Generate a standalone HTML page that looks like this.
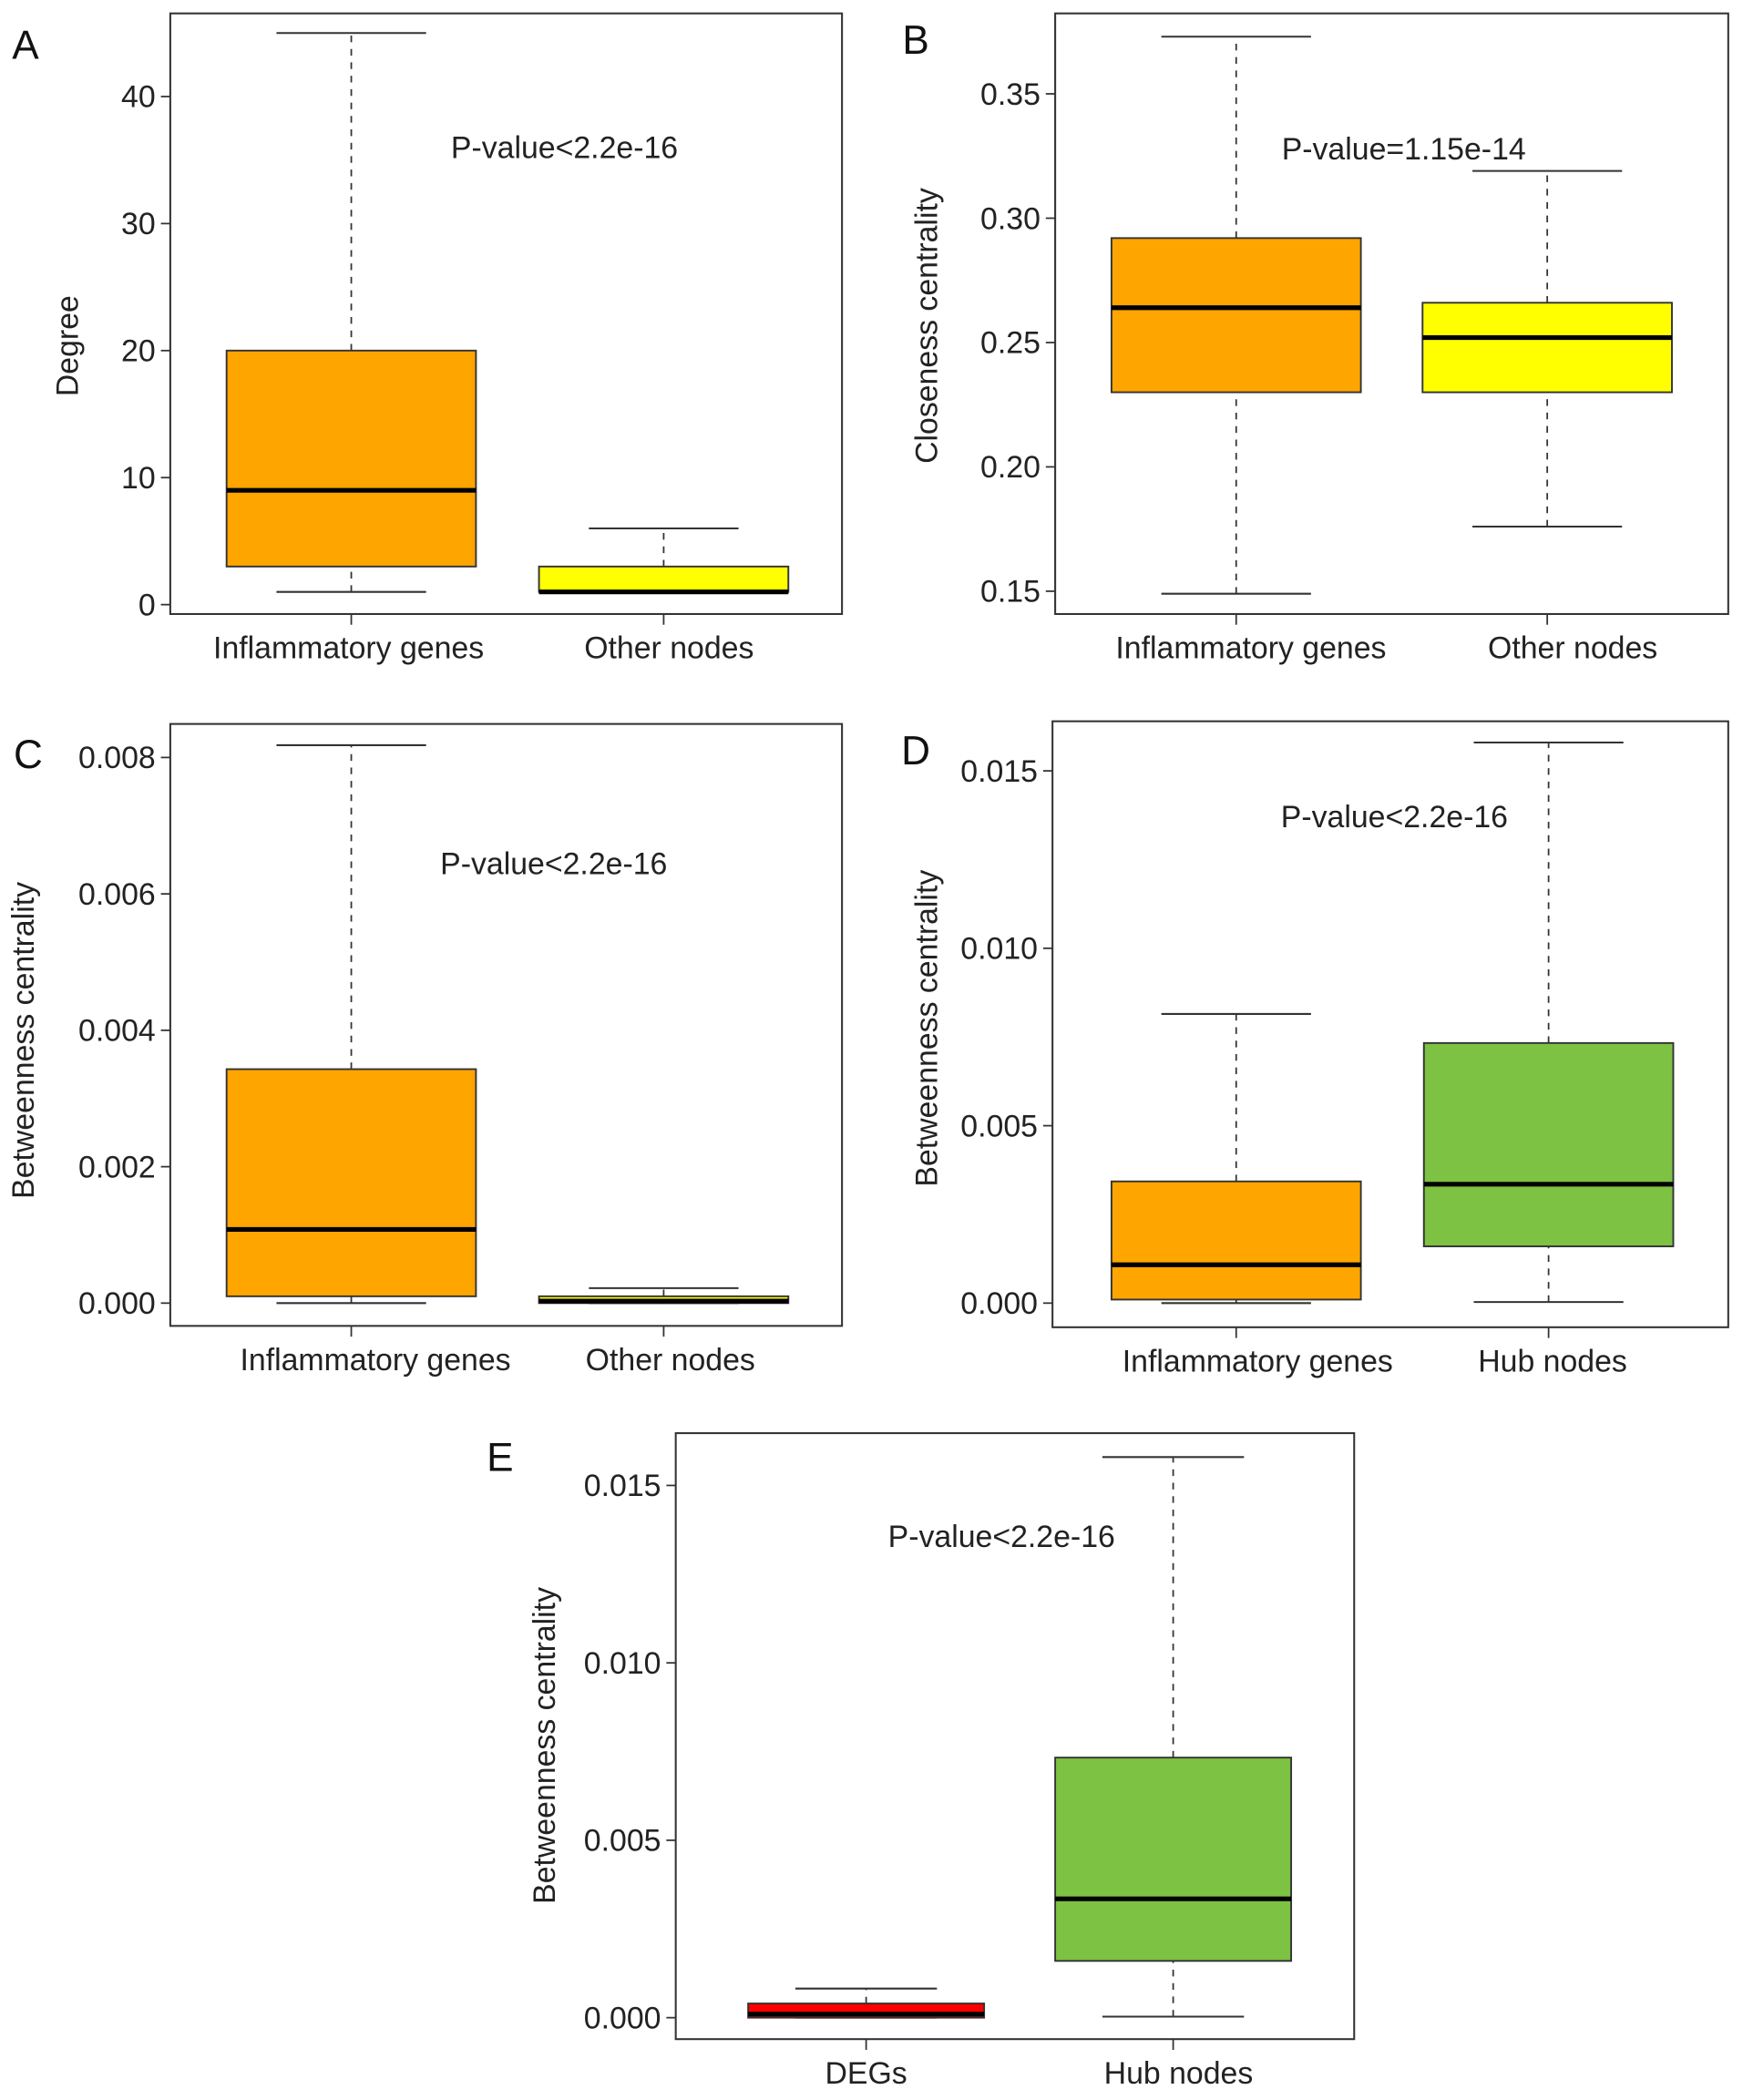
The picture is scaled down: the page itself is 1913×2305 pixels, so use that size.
<!DOCTYPE html>
<html><head><meta charset="utf-8"><style>
html,body{margin:0;padding:0;background:#fff;}
svg{display:block;font-family:"Liberation Sans",Arial,sans-serif;}
</style></head><body>
<svg id="fig" width="1913" height="2305" viewBox="0 0 1300 1566.4" xmlns="http://www.w3.org/2000/svg"></svg>
<script>
// Panel A data
const aCats = ["Inflammatory genes","Other nodes"];
const aStats = [[1,3,9,20,45],[1,1,1,3,6]];
const aTicks = [0,10,20,30,40];
const aTickLabels = ["0","10","20","30","40"];
// Panel B data
const bCats = ["Inflammatory genes","Other nodes"];
const bStats = [[0.149,0.230,0.264,0.292,0.373],[0.176,0.230,0.252,0.266,0.319]];
const bTicks = [0.15,0.20,0.25,0.30,0.35];
const bTickLabels = ["0.15","0.20","0.25","0.30","0.35"];
// Panel C data
const cCats = ["Inflammatory genes","Other nodes"];
const cStats = [[0,0.0001,0.00108,0.00343,0.00818],[0,0,0.00003,0.0001,0.00022]];
const cTicks = [0,0.002,0.004,0.006,0.008];
const cTickLabels = ["0.000","0.002","0.004","0.006","0.008"];
// Panel D data
const dCats = ["Inflammatory genes","Hub nodes"];
const dStats = [[0,0.0001,0.00108,0.00343,0.00815],[0.00003,0.0016,0.00335,0.00733,0.0158]];
const dTicks = [0,0.005,0.010,0.015];
const dTickLabels = ["0.000","0.005","0.010","0.015"];
// Panel E data
const eCats = ["DEGs","Hub nodes"];
const eStats = [[0,0,0.0001,0.0004,0.00082],[0.00003,0.0016,0.00335,0.00733,0.0158]];
const eTicks = [0,0.005,0.010,0.015];
const eTickLabels = ["0.000","0.005","0.010","0.015"];

const NS="http://www.w3.org/2000/svg";
const svg=document.getElementById('fig');
function mk(tag,attrs,parent){const e=document.createElementNS(NS,tag);for(const k in attrs)e.setAttribute(k,attrs[k]);(parent||svg).appendChild(e);return e;}

function panel(o){
  const g=mk('g',{});
  
  
  const ys=v=>o.y0+(v-o.v0)*(o.y1-o.y0)/(o.v1-o.v0);
  const fr=mk('rect',{x:o.fx0,y:o.fy0,width:o.fx1-o.fx0,height:o.fy1-o.fy0,fill:'none',stroke:'#333','stroke-width':1.4},g);
  
  
  const ax=mk('g',{},g);
  
  
  o.ticks.forEach((t,i)=>{
    const y=ys(t);
    mk('line',{x1:o.fx0-7,x2:o.fx0,y1:y,y2:y,stroke:'#333','stroke-width':1.2},ax);
    const tx=mk('text',{x:o.fx0-11,y:y+8,'text-anchor':'end','font-size':23,fill:'#222'},ax);
    tx.textContent=o.labels[i];
    
    
  });
  const yl=mk('text',{x:0,y:0,transform:`translate(${o.ylx},${o.yly}) rotate(-90)`,'text-anchor':'middle','font-size':23,fill:'#222'},g);
  yl.textContent=o.ytitle;
  
  
  o.stats.forEach((s,i)=>{
    const cx=o.cx[i],hw=o.hw,ww=o.hw*0.6;
    const bg=mk('g',{},g);
    
    
    mk('line',{x1:cx,x2:cx,y1:ys(s[0]),y2:ys(s[1]),stroke:'#333','stroke-width':1.2,'stroke-dasharray':'5,5'},bg);
    mk('line',{x1:cx,x2:cx,y1:ys(s[3]),y2:ys(s[4]),stroke:'#333','stroke-width':1.2,'stroke-dasharray':'5,5'},bg);
    mk('line',{x1:cx-ww,x2:cx+ww,y1:ys(s[0]),y2:ys(s[0]),stroke:'#333','stroke-width':1.4},bg);
    mk('line',{x1:cx-ww,x2:cx+ww,y1:ys(s[4]),y2:ys(s[4]),stroke:'#333','stroke-width':1.4},bg);
    mk('rect',{x:cx-hw,y:ys(s[3]),width:2*hw,height:Math.max(ys(s[1])-ys(s[3]),1),fill:o.colors[i],stroke:'#333','stroke-width':1.3},bg);
    mk('line',{x1:cx-hw,x2:cx+hw,y1:ys(s[2]),y2:ys(s[2]),stroke:'#000','stroke-width':3.5},bg);
    mk('line',{x1:cx,x2:cx,y1:o.fy1,y2:o.fy1+8,stroke:'#333','stroke-width':1.2},g);
    const xl=mk('text',{x:o.lx[i],y:o.fy1+33,'text-anchor':'middle','font-size':23,fill:'#222'},g);
    xl.textContent=o.cats[i];
    
    
  });
  const p=mk('text',{x:o.px,y:o.py,'text-anchor':'middle','font-size':23,fill:'#222'},g);
  p.textContent=o.ptext;
  
  
  const L=mk('text',{x:o.Lx,y:o.Ly,'text-anchor':'middle','font-size':30,fill:'#111'},g);
  L.textContent=o.letter;
  
  
}

panel({letter:'A',cats:aCats,stats:aStats,ticks:aTicks,labels:aTickLabels,v0:0,v1:40,y0:451,y1:72,
  fx0:127,fx1:628,fy0:10,fy1:458,cx:[262,495],lx:[260,499],hw:93,colors:['#FFA500','#FFFF00'],
  ytitle:'Degree',ylx:58,yly:258,ptext:'P-value<2.2e-16',px:421,py:118,Lx:19,Ly:44});
panel({letter:'B',cats:bCats,stats:bStats,ticks:bTicks,labels:bTickLabels,v0:0.15,v1:0.35,y0:441,y1:70,
  fx0:787,fx1:1289,fy0:10,fy1:458,cx:[922,1154],lx:[933,1173],hw:93,colors:['#FFA500','#FFFF00'],
  ytitle:'Closeness centrality',ylx:699,yly:243,ptext:'P-value=1.15e-14',px:1047,py:119,Lx:683,Ly:40});
panel({letter:'C',cats:cCats,stats:cStats,ticks:cTicks,labels:cTickLabels,v0:0,v1:0.008,y0:972,y1:565,
  fx0:127,fx1:628,fy0:540,fy1:989,cx:[262,495],lx:[280,500],hw:93,colors:['#FFA500','#FFFF00'],
  ytitle:'Betweenness centrality',ylx:25,yly:776,ptext:'P-value<2.2e-16',px:413,py:652,Lx:21,Ly:573});
panel({letter:'D',cats:dCats,stats:dStats,ticks:dTicks,labels:dTickLabels,v0:0,v1:0.015,y0:972,y1:575,
  fx0:785,fx1:1289,fy0:538,fy1:990,cx:[922,1155],lx:[938,1158],hw:93,colors:['#FFA500','#7DC242'],
  ytitle:'Betweenness centrality',ylx:699,yly:767,ptext:'P-value<2.2e-16',px:1040,py:617,Lx:683,Ly:570});
panel({letter:'E',cats:eCats,stats:eStats,ticks:eTicks,labels:eTickLabels,v0:0,v1:0.015,y0:1505,y1:1108,
  fx0:504,fx1:1010,fy0:1069,fy1:1521,cx:[646,875],lx:[646,879],hw:88,colors:['#FF0000','#7DC242'],
  ytitle:'Betweenness centrality',ylx:414,yly:1302,ptext:'P-value<2.2e-16',px:747,py:1154,Lx:373,Ly:1097});
</script>
</body></html>
